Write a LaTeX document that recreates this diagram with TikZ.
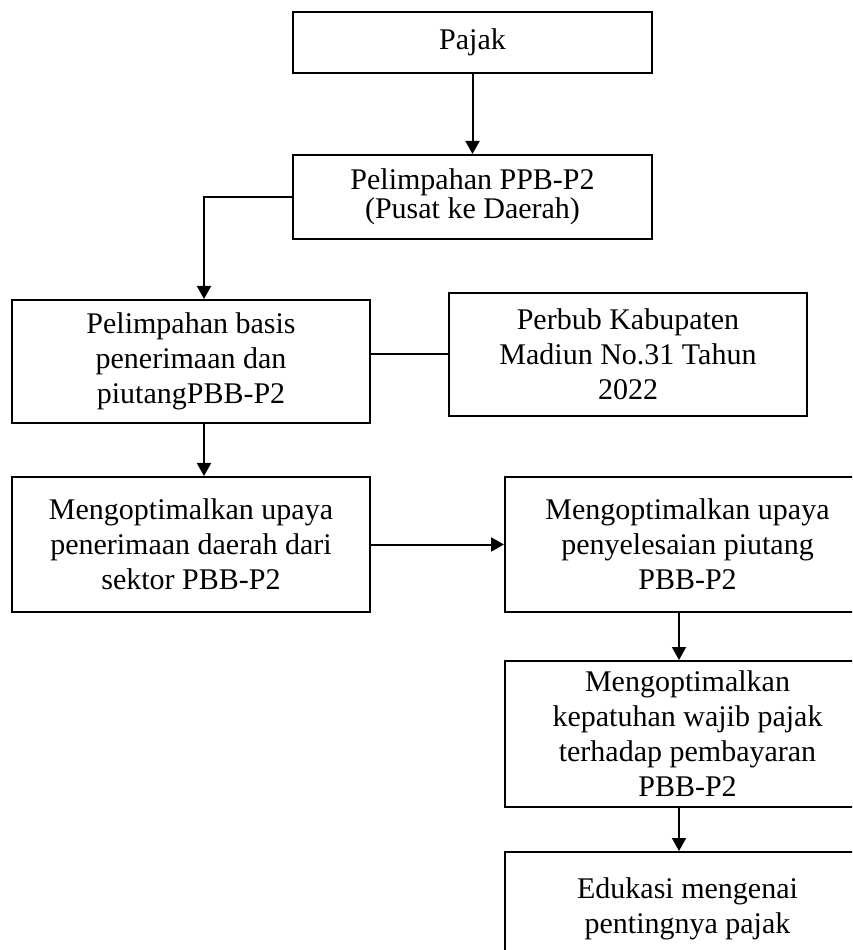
\documentclass[tikz,border=0pt]{standalone}
\usepackage{fontspec}
\setmainfont{Liberation Serif}
\usetikzlibrary{arrows.meta}
\tikzset{
	stepbox/.style = {draw=black, line width=0.8pt, align=center, inner sep=0pt, font=\fontsize{12}{14}\selectfont},
	widebox/.style = {stepbox, minimum width=143.4pt},
	rightbox/.style = {stepbox, minimum width=146pt},
	flow/.style = {line width=0.8pt, -{Triangle[width=5.6pt,length=5.2pt]}},
	link/.style = {line width=0.8pt}
}

\begin{document}
\begin{tikzpicture}[x=0.4pt, y=-0.4pt]
		\useasboundingbox (0,0) rectangle (852,950);
		\clip (0,0) rectangle (852,950);
		% top of the chart
		\node [widebox, minimum height=24.4pt] (pajak) at (472.5,42.5) {Pajak};
		\node [widebox, minimum height=33.6pt, font=\fontsize{12}{11.6}\selectfont] (pelimpahan) at (472.5,197) {Pelimpahan PPB-P2\\(Pusat ke Daerah)};
		\node [widebox, minimum height=49.2pt] (basis) at (191,361.5) {Pelimpahan basis\\penerimaan dan\\piutangPBB-P2};
		\node [widebox, minimum height=49.2pt] (perbub) at (628,354.5) {Perbub Kabupaten\\Madiun No.31 Tahun\\2022};
		% lower part
		\node [widebox, minimum height=54pt] (upaya) at (191,544.5) {Mengoptimalkan upaya\\penerimaan daerah dari\\sektor PBB-P2};
		\node [rightbox, minimum height=54pt] (piutang) at (687.5,544.5) {Mengoptimalkan upaya\\penyelesaian piutang\\PBB-P2};
		\node [rightbox, minimum height=58.4pt] (patuh) at (687.5,734) {Mengoptimalkan\\kepatuhan wajib pajak\\terhadap pembayaran\\PBB-P2};
		\node [rightbox, minimum height=45.6pt] (edukasi) at (687.5,909) {Edukasi mengenai\\pentingnya pajak};

		\draw [flow] (pajak) -- (pelimpahan);
		\draw [flow] (pelimpahan.west) -| ([xshift=5.2pt]basis.north);
		\draw [link] (perbub.west -| basis.east) -- (perbub.west);
		\draw [flow] ([xshift=5.2pt]basis.south) -- ([xshift=5.2pt]upaya.north);
		\draw [flow] (upaya) -- (piutang);
		\draw [flow] ([xshift=-3.4pt]piutang.south) -- ([xshift=-3.4pt]patuh.north);
		\draw [flow] ([xshift=-3.4pt]patuh.south) -- ([xshift=-3.4pt]edukasi.north);
\end{tikzpicture}
\end{document}
